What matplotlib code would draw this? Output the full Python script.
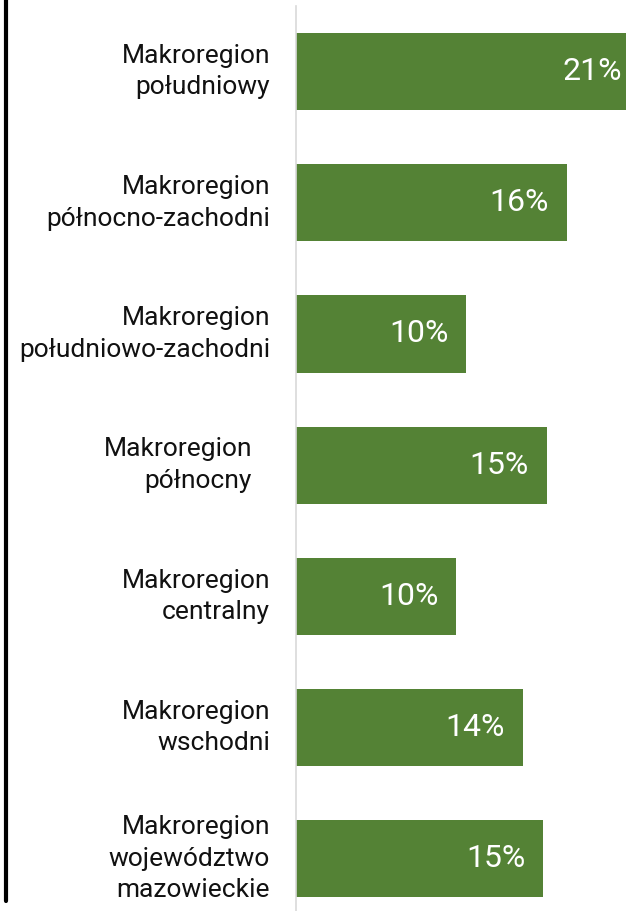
import matplotlib
matplotlib.use("Agg")
import matplotlib.pyplot as plt
import matplotlib.transforms as mtransforms
from matplotlib.lines import Line2D

# categories top -> bottom
categories = [
    "Makroregion\npołudniowy",
    "Makroregion\npółnocno-zachodni",
    "Makroregion\npołudniowo-zachodni",
    "Makroregion\npółnocny",
    "Makroregion\ncentralny",
    "Makroregion\nwschodni",
    "Makroregion\nwojewództwo\nmazowieckie",
]
values = [20.6, 16.2, 10.2, 15.0, 9.6, 13.6, 14.8]   # % (bar lengths)
value_labels = ["21%", "16%", "10%", "15%", "10%", "14%", "15%"]
label_shift_px = [0, 0, 0, 18, 0, 0, 0]  # "północny" sits further left in the original

GREEN = "#548235"
W, H = 626, 911

plt.rcParams["font.family"] = ["Roboto", "DejaVu Sans"]

fig = plt.figure(figsize=(W / 100, H / 100), dpi=100)
# axes: left edge at x=296 px, right edge at image edge, top at y=6 px
ax = fig.add_axes([296 / W, 0, 1 - 296 / W, (H - 6) / H])
ax.set_xlim(0, 330 / 16.7)
ax.set_ylim(-0.5 + (H - 6) / 131.2, -0.5)

ys = list(range(len(categories)))
ax.barh(ys, values, height=0.587, color=GREEN, edgecolor="none", zorder=2, clip_on=True)

for y, v, lab in zip(ys, values, value_labels):
    ax.annotate(lab, (v, y), xytext=(-13, 0), textcoords="offset points",
                ha="right", va="center", color="white", fontsize=23,
                annotation_clip=False, clip_on=True)

# category labels, right-aligned 26 px left of the axis
for y, cat, sh in zip(ys, categories, label_shift_px):
    off = mtransforms.ScaledTranslation(-(26 + sh) / 100, 0, fig.dpi_scale_trans)
    ax.text(0, y, cat, transform=ax.transData + off, ha="right", va="center",
            multialignment="right", fontsize=19, linespacing=1.4, color="#111111",
            clip_on=False)

for s in ("top", "right", "bottom"):
    ax.spines[s].set_visible(False)
ax.spines["left"].set_color("#d9d9d9")
ax.spines["left"].set_linewidth(1.2)
ax.set_xticks([])
ax.set_yticks([])
ax.patch.set_alpha(0)

# thick black rule at the far left
fig.add_artist(Line2D([6 / W, 6 / W], [1.02, 10 / H], transform=fig.transFigure,
                      color="black", lw=3.0, solid_capstyle="round"))

fig.savefig("out.png", dpi=100)
